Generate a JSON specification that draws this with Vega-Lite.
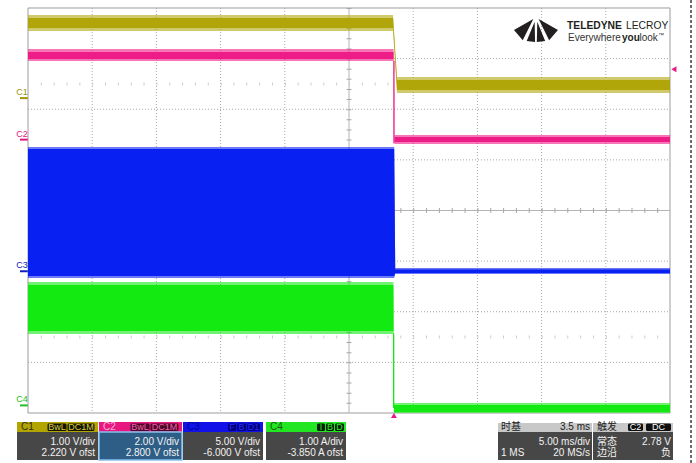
{
  "$schema": "https://vega.github.io/schema/vega-lite/v6.json",
  "width": 696,
  "height": 463,
  "padding": 0,
  "autosize": {"type": "none"},
  "background": "white",
  "config": {"view": {"stroke": null}, "text": {"font": "Liberation Sans"}},
  "resolve": {"scale": {"color": "independent"}},
  "datasets": {
    "vgrid": [{"t": -23.5}, {"t": -18.5}, {"t": -13.5}, {"t": -8.5}, {"t": 1.5}, {"t": 6.5}, {"t": 11.5}, {"t": 16.5}],
    "hgrid": [{"d": -3}, {"d": -2}, {"d": -1}, {"d": 1}, {"d": 2}, {"d": 3}],
    "traces": [
      {"ch": "C1", "t": -28.5, "hi": 3.862, "lo": 3.546, "hi2": 3.802, "lo2": 3.605},
      {"ch": "C1", "t": -0.07, "hi": 3.862, "lo": 3.546, "hi2": 3.802, "lo2": 3.605},
      {"ch": "C1", "t": 0.24, "hi": 2.637, "lo": 2.321, "hi2": 2.578, "lo2": 2.38},
      {"ch": "C1", "t": 21.5, "hi": 2.637, "lo": 2.321, "hi2": 2.578, "lo2": 2.38},
      {"ch": "C2", "t": -28.5, "hi": 3.19, "lo": 2.953, "hi2": 3.131, "lo2": 2.993},
      {"ch": "C2", "t": -0.03, "hi": 3.19, "lo": 2.953, "hi2": 3.131, "lo2": 2.993},
      {"ch": "C2", "t": 0.05, "hi": 1.491, "lo": 1.314, "hi2": 1.452, "lo2": 1.353},
      {"ch": "C2", "t": 21.5, "hi": 1.491, "lo": 1.314, "hi2": 1.452, "lo2": 1.353},
      {"ch": "C3", "t": -28.5, "hi": 1.254, "lo": -1.333, "hi2": 1.215, "lo2": -1.294},
      {"ch": "C3", "t": 0.02, "hi": 1.254, "lo": -1.333, "hi2": 1.215, "lo2": -1.294},
      {"ch": "C3", "t": 0.1, "hi": -1.136, "lo": -1.254, "hi2": -1.165, "lo2": -1.235},
      {"ch": "C3", "t": 21.5, "hi": -1.136, "lo": -1.254, "hi2": -1.165, "lo2": -1.235},
      {"ch": "C4", "t": -28.5, "hi": -1.412, "lo": -2.44, "hi2": -1.472, "lo2": -2.38},
      {"ch": "C4", "t": -0.04, "hi": -1.412, "lo": -2.44, "hi2": -1.472, "lo2": -2.38},
      {"ch": "C4", "t": 0.0, "hi": -3.802, "lo": -4.0, "hi2": -3.842, "lo2": -3.98},
      {"ch": "C4", "t": 21.5, "hi": -3.802, "lo": -4.0, "hi2": -3.842, "lo2": -3.98}
    ],
    "steps": [
      {"ch": "C2", "t": 0.0, "a": 2.96, "b": 1.33},
      {"ch": "C4", "t": -0.02, "a": -2.43, "b": -3.9}
    ],
    "offsets": [
      {"ch": "C1", "d": 2.22},
      {"ch": "C2", "d": 1.4},
      {"ch": "C3", "d": -1.2},
      {"ch": "C4", "d": -3.85}
    ],
    "boxes": [
      {"k": "C1h", "x1": -29.3567, "x2": -23.0483, "y1": -4.1778, "y2": -4.3753},
      {"k": "body", "x1": -29.3567, "x2": -23.0483, "y1": -4.3753, "y2": -4.9284},
      {"k": "C2h", "x1": -22.9704, "x2": -16.5062, "y1": -4.1778, "y2": -4.3753},
      {"k": "sel", "x1": -22.9704, "x2": -16.5062, "y1": -4.3753, "y2": -4.9284},
      {"k": "C3h", "x1": -16.4284, "x2": -10.1978, "y1": -4.1778, "y2": -4.3753},
      {"k": "body", "x1": -16.4284, "x2": -10.1978, "y1": -4.3753, "y2": -4.9284},
      {"k": "C4h", "x1": -9.9642, "x2": -3.7337, "y1": -4.1778, "y2": -4.3753},
      {"k": "body", "x1": -9.9642, "x2": -3.7337, "y1": -4.3753, "y2": -4.9284},
      {"k": "gh", "x1": 8.1043, "x2": 15.4252, "y1": -4.1976, "y2": -4.3753},
      {"k": "body", "x1": 8.1043, "x2": 15.4252, "y1": -4.3753, "y2": -4.9284},
      {"k": "gh", "x1": 15.5031, "x2": 21.7336, "y1": -4.1976, "y2": -4.3753},
      {"k": "body", "x1": 15.5031, "x2": 21.7336, "y1": -4.3753, "y2": -4.9284}
    ],
    "badges": [
      {"k": "C1", "x1": -26.9813, "x2": -25.5016, "xc": -26.2414, "label": "BwL"},
      {"k": "C1", "x1": -25.4237, "x2": -23.3209, "xc": -24.3723, "label": "DC1M"},
      {"k": "C2", "x1": -20.5172, "x2": -19.0374, "xc": -19.7773, "label": "BwL"},
      {"k": "C2", "x1": -18.9595, "x2": -16.7788, "xc": -17.8692, "label": "DC1M"},
      {"k": "C3", "x1": -12.9237, "x2": -12.3006, "xc": -12.6122, "label": "F"},
      {"k": "C3", "x1": -12.2228, "x2": -11.5218, "xc": -11.8723, "label": "B"},
      {"k": "C3", "x1": -11.4439, "x2": -10.4315, "xc": -10.9377, "label": "D1"},
      {"k": "C4", "x1": -5.9922, "x2": -5.3692, "xc": -5.6807, "label": "I"},
      {"k": "C4", "x1": -5.2913, "x2": -4.6682, "xc": -4.9798, "label": "B"},
      {"k": "C4", "x1": -4.5904, "x2": -3.8894, "xc": -4.2399, "label": "D"},
      {"k": "T", "x1": 18.2289, "x2": 19.3971, "xc": 18.813, "label": "C2"},
      {"k": "T", "x1": 19.6308, "x2": 21.5778, "xc": 20.6043, "label": "DC"}
    ],
    "hdr": [
      {"k": "C1", "t": -29.0452, "label": "C1"},
      {"k": "C2", "t": -22.6589, "label": "C2"},
      {"k": "C3", "t": -16.1168, "label": "C3"},
      {"k": "C4", "t": -9.6527, "label": "C4"},
      {"k": "G", "t": 8.338, "label": "时基"},
      {"k": "G", "t": 15.8146, "label": "触发"}
    ],
    "bodyR": [
      {"t": -23.282, "d": -4.563, "label": "1.00 V/div"},
      {"t": -23.282, "d": -4.7961, "label": "2.220 V ofst"},
      {"t": -16.7398, "d": -4.563, "label": "2.00 V/div"},
      {"t": -16.7398, "d": -4.7961, "label": "2.800 V ofst"},
      {"t": -10.4315, "d": -4.563, "label": "5.00 V/div"},
      {"t": -10.4315, "d": -4.7961, "label": "-6.000 V ofst"},
      {"t": -3.9673, "d": -4.563, "label": "1.00 A/div"},
      {"t": -3.9673, "d": -4.7961, "label": "-3.850 A ofst"},
      {"t": 15.2694, "d": -4.563, "label": "5.00 ms/div"},
      {"t": 15.2694, "d": -4.7961, "label": "20 MS/s"},
      {"t": 21.5778, "d": -4.563, "label": "2.78 V"},
      {"t": 21.5778, "d": -4.7961, "label": "负"}
    ],
    "bodyL": [
      {"t": 8.338, "d": -4.7961, "label": "1 MS"},
      {"t": 15.8146, "d": -4.563, "label": "常态"},
      {"t": 15.8146, "d": -4.7961, "label": "边沿"}
    ]
  },
  "layer": [
    {
      "data": {"values": [{}]},
      "mark": {"type": "rect", "fill": "white", "stroke": "#9c9c9c", "strokeWidth": 1},
      "encoding": {
        "x": {"datum": -28.5, "type": "quantitative", "scale": {"domain": [-30.6807, 23.5249], "nice": false, "zero": false}, "axis": null},
        "x2": {"datum": 21.5},
        "y": {"datum": 4, "type": "quantitative", "scale": {"domain": [-4.98766, 4.15802], "nice": false, "zero": false}, "axis": null},
        "y2": {"datum": -4}
      }
    },
    {
      "data": {"name": "vgrid"},
      "mark": {"type": "rule", "color": "#a6a6a6", "strokeWidth": 1, "strokeDash": [1, 2]},
      "encoding": {
        "x": {"field": "t", "type": "quantitative", "scale": {"domain": [-30.6807, 23.5249], "nice": false, "zero": false}, "axis": null},
        "y": {"datum": 4, "type": "quantitative", "scale": {"domain": [-4.98766, 4.15802], "nice": false, "zero": false}, "axis": null},
        "y2": {"datum": -4}
      }
    },
    {
      "data": {"name": "hgrid"},
      "mark": {"type": "rule", "color": "#a6a6a6", "strokeWidth": 1, "strokeDash": [1, 2]},
      "encoding": {
        "y": {"field": "d", "type": "quantitative", "scale": {"domain": [-4.98766, 4.15802], "nice": false, "zero": false}, "axis": null},
        "x": {"datum": -28.5, "type": "quantitative", "scale": {"domain": [-30.6807, 23.5249], "nice": false, "zero": false}, "axis": null},
        "x2": {"datum": 21.5}
      }
    },
    {
      "data": {"values": [{}]},
      "mark": {"type": "rule", "color": "#b4b4b4", "strokeWidth": 1},
      "encoding": {
        "y": {"datum": 0, "type": "quantitative", "scale": {"domain": [-4.98766, 4.15802], "nice": false, "zero": false}, "axis": null},
        "x": {"datum": -28.5, "type": "quantitative", "scale": {"domain": [-30.6807, 23.5249], "nice": false, "zero": false}, "axis": null},
        "x2": {"datum": 21.5}
      }
    },
    {
      "data": {"values": [{}]},
      "mark": {"type": "rule", "color": "#b4b4b4", "strokeWidth": 1},
      "encoding": {
        "x": {"datum": -3.5, "type": "quantitative", "scale": {"domain": [-30.6807, 23.5249], "nice": false, "zero": false}, "axis": null},
        "y": {"datum": 4, "type": "quantitative", "scale": {"domain": [-4.98766, 4.15802], "nice": false, "zero": false}, "axis": null},
        "y2": {"datum": -4}
      }
    },
    {
      "data": {"values": [{}]},
      "mark": {"type": "rule", "color": "#a8a8a8", "strokeWidth": 5, "strokeDash": [1, 11.84]},
      "encoding": {
        "y": {"datum": 0, "type": "quantitative", "scale": {"domain": [-4.98766, 4.15802], "nice": false, "zero": false}, "axis": null},
        "x": {"datum": -28.5, "type": "quantitative", "scale": {"domain": [-30.6807, 23.5249], "nice": false, "zero": false}, "axis": null},
        "x2": {"datum": 21.5}
      }
    },
    {
      "data": {"values": [{}]},
      "mark": {"type": "rule", "color": "#a8a8a8", "strokeWidth": 5, "strokeDash": [1, 9.125]},
      "encoding": {
        "x": {"datum": -3.5, "type": "quantitative", "scale": {"domain": [-30.6807, 23.5249], "nice": false, "zero": false}, "axis": null},
        "y": {"datum": 4, "type": "quantitative", "scale": {"domain": [-4.98766, 4.15802], "nice": false, "zero": false}, "axis": null},
        "y2": {"datum": -4}
      }
    },
    {
      "data": {"values": [{"d": 2.5}, {"d": -2.5}]},
      "mark": {"type": "rule", "color": "#cccccc", "strokeWidth": 3, "strokeDash": [1, 11.84]},
      "encoding": {
        "y": {"field": "d", "type": "quantitative", "scale": {"domain": [-4.98766, 4.15802], "nice": false, "zero": false}, "axis": null},
        "x": {"datum": -28.5, "type": "quantitative", "scale": {"domain": [-30.6807, 23.5249], "nice": false, "zero": false}, "axis": null},
        "x2": {"datum": 21.5}
      }
    },
    {
      "data": {"name": "traces"},
      "mark": {"type": "area", "opacity": 0.6, "interpolate": "linear"},
      "encoding": {
        "x": {"field": "t", "type": "quantitative", "scale": {"domain": [-30.6807, 23.5249], "nice": false, "zero": false}, "axis": null},
        "y": {"field": "hi", "type": "quantitative", "scale": {"domain": [-4.98766, 4.15802], "nice": false, "zero": false}, "axis": null},
        "y2": {"field": "lo"},
        "color": {"field": "ch", "type": "nominal", "scale": {"domain": ["C1", "C2", "C3", "C4"], "range": ["#b0a60a", "#ee1c87", "#0820f2", "#12ea12"]}, "legend": null}
      }
    },
    {
      "data": {"name": "traces"},
      "mark": {"type": "area", "opacity": 1, "interpolate": "linear"},
      "encoding": {
        "x": {"field": "t", "type": "quantitative", "scale": {"domain": [-30.6807, 23.5249], "nice": false, "zero": false}, "axis": null},
        "y": {"field": "hi2", "type": "quantitative", "scale": {"domain": [-4.98766, 4.15802], "nice": false, "zero": false}, "axis": null},
        "y2": {"field": "lo2"},
        "color": {"field": "ch", "type": "nominal", "scale": {"domain": ["C1", "C2", "C3", "C4"], "range": ["#b0a60a", "#ee1c87", "#0820f2", "#12ea12"]}, "legend": null}
      }
    },
    {
      "data": {"name": "steps"},
      "mark": {"type": "rule", "strokeWidth": 1.3},
      "encoding": {
        "x": {"field": "t", "type": "quantitative", "scale": {"domain": [-30.6807, 23.5249], "nice": false, "zero": false}, "axis": null},
        "y": {"field": "a", "type": "quantitative", "scale": {"domain": [-4.98766, 4.15802], "nice": false, "zero": false}, "axis": null},
        "y2": {"field": "b"},
        "color": {"field": "ch", "type": "nominal", "scale": {"domain": ["C2", "C4"], "range": ["#ee1c87", "#12ea12"]}, "legend": null}
      }
    },
    {
      "data": {"name": "offsets"},
      "mark": {"type": "rule", "strokeWidth": 2},
      "encoding": {
        "x": {"datum": -29.123, "type": "quantitative", "scale": {"domain": [-30.6807, 23.5249], "nice": false, "zero": false}, "axis": null},
        "x2": {"datum": -28.52},
        "y": {"field": "d", "type": "quantitative", "scale": {"domain": [-4.98766, 4.15802], "nice": false, "zero": false}, "axis": null},
        "color": {"field": "ch", "type": "nominal", "scale": {"domain": ["C1", "C2", "C3", "C4"], "range": ["#a09400", "#e0187e", "#1020c0", "#20c020"]}, "legend": null}
      }
    },
    {
      "data": {"name": "offsets"},
      "mark": {"type": "text", "fontSize": 9, "align": "center", "baseline": "middle", "dy": -6},
      "encoding": {
        "x": {"datum": -28.9673, "type": "quantitative", "scale": {"domain": [-30.6807, 23.5249], "nice": false, "zero": false}, "axis": null},
        "y": {"field": "d", "type": "quantitative", "scale": {"domain": [-4.98766, 4.15802], "nice": false, "zero": false}, "axis": null},
        "text": {"field": "ch"},
        "color": {"field": "ch", "type": "nominal", "scale": {"domain": ["C1", "C2", "C3", "C4"], "range": ["#a09400", "#e0187e", "#1020c0", "#20c020"]}, "legend": null}
      }
    },
    {
      "data": {"values": [{"t": 21.8, "d": 2.79}]},
      "mark": {"type": "point", "shape": "triangle-left", "filled": true, "size": 35, "color": "#e8178a", "opacity": 1},
      "encoding": {
        "x": {"field": "t", "type": "quantitative", "scale": {"domain": [-30.6807, 23.5249], "nice": false, "zero": false}, "axis": null},
        "y": {"field": "d", "type": "quantitative", "scale": {"domain": [-4.98766, 4.15802], "nice": false, "zero": false}, "axis": null}
      }
    },
    {
      "data": {"values": [{"t": 0, "d": -4.05}]},
      "mark": {"type": "point", "shape": "triangle-up", "filled": true, "size": 35, "color": "#e8178a", "opacity": 1},
      "encoding": {
        "x": {"field": "t", "type": "quantitative", "scale": {"domain": [-30.6807, 23.5249], "nice": false, "zero": false}, "axis": null},
        "y": {"field": "d", "type": "quantitative", "scale": {"domain": [-4.98766, 4.15802], "nice": false, "zero": false}, "axis": null}
      }
    },
    {
      "data": {"values": [{}]},
      "mark": {"type": "rule", "color": "#3c3c3c", "strokeWidth": 1.5, "strokeDash": [3, 2]},
      "encoding": {
        "x": {"datum": 23.136, "type": "quantitative", "scale": {"domain": [-30.6807, 23.5249], "nice": false, "zero": false}, "axis": null},
        "y": {"datum": 4.158, "type": "quantitative", "scale": {"domain": [-4.98766, 4.15802], "nice": false, "zero": false}, "axis": null},
        "y2": {"datum": -4.9877}
      }
    },
    {
      "data": {"values": [{"t": 11.06, "d": 3.5654}]},
      "mark": {"type": "point", "filled": true, "opacity": 1, "color": "#231f20", "size": 1936, "shape": "M -0.12,-0.5 L -1,0 L -0.6,0.47 Z M -0.06,-0.38 L -0.42,0.5 L -0.04,0.55 Z M 0.12,-0.5 L 1,0 L 0.6,0.47 Z M 0.06,-0.38 L 0.42,0.5 L 0.04,0.55 Z"},
      "encoding": {
        "x": {"field": "t", "type": "quantitative", "scale": {"domain": [-30.6807, 23.5249], "nice": false, "zero": false}, "axis": null},
        "y": {"field": "d", "type": "quantitative", "scale": {"domain": [-4.98766, 4.15802], "nice": false, "zero": false}, "axis": null}
      }
    },
    {
      "data": {"values": [{"t": 13.4782, "d": 3.6444, "label": "TELEDYNE"}]},
      "mark": {"type": "text", "align": "left", "baseline": "middle", "font": "Liberation Sans", "fontWeight": "bold", "fontSize": 10.3, "color": "#231f20"},
      "encoding": {
        "x": {"field": "t", "type": "quantitative", "scale": {"domain": [-30.6807, 23.5249], "nice": false, "zero": false}, "axis": null},
        "y": {"field": "d", "type": "quantitative", "scale": {"domain": [-4.98766, 4.15802], "nice": false, "zero": false}, "axis": null},
        "text": {"field": "label"}
      }
    },
    {
      "data": {"values": [{"t": 18.0731, "d": 3.6444, "label": "LECROY"}]},
      "mark": {"type": "text", "align": "left", "baseline": "middle", "font": "Liberation Sans", "fontSize": 10.3, "color": "#231f20"},
      "encoding": {
        "x": {"field": "t", "type": "quantitative", "scale": {"domain": [-30.6807, 23.5249], "nice": false, "zero": false}, "axis": null},
        "y": {"field": "d", "type": "quantitative", "scale": {"domain": [-4.98766, 4.15802], "nice": false, "zero": false}, "axis": null},
        "text": {"field": "label"}
      }
    },
    {
      "data": {"values": [{"t": 13.5561, "d": 3.4074, "label": "Everywhere"}, {"t": 19.1246, "d": 3.4074, "label": "look"}]},
      "mark": {"type": "text", "align": "left", "baseline": "middle", "fontSize": 10, "color": "#333333"},
      "encoding": {
        "x": {"field": "t", "type": "quantitative", "scale": {"domain": [-30.6807, 23.5249], "nice": false, "zero": false}, "axis": null},
        "y": {"field": "d", "type": "quantitative", "scale": {"domain": [-4.98766, 4.15802], "nice": false, "zero": false}, "axis": null},
        "text": {"field": "label"}
      }
    },
    {
      "data": {"values": [{"t": 17.7616, "d": 3.4074, "label": "you"}]},
      "mark": {"type": "text", "align": "left", "baseline": "middle", "fontSize": 10, "fontWeight": "bold", "color": "#231f20"},
      "encoding": {
        "x": {"field": "t", "type": "quantitative", "scale": {"domain": [-30.6807, 23.5249], "nice": false, "zero": false}, "axis": null},
        "y": {"field": "d", "type": "quantitative", "scale": {"domain": [-4.98766, 4.15802], "nice": false, "zero": false}, "axis": null},
        "text": {"field": "label"}
      }
    },
    {
      "data": {"values": [{"t": 20.5654, "d": 3.46, "label": "™"}]},
      "mark": {"type": "text", "align": "left", "baseline": "middle", "fontSize": 6, "color": "#333333"},
      "encoding": {
        "x": {"field": "t", "type": "quantitative", "scale": {"domain": [-30.6807, 23.5249], "nice": false, "zero": false}, "axis": null},
        "y": {"field": "d", "type": "quantitative", "scale": {"domain": [-4.98766, 4.15802], "nice": false, "zero": false}, "axis": null},
        "text": {"field": "label"}
      }
    },
    {
      "data": {"name": "boxes"},
      "mark": {"type": "rect"},
      "encoding": {
        "x": {"field": "x1", "type": "quantitative", "scale": {"domain": [-30.6807, 23.5249], "nice": false, "zero": false}, "axis": null},
        "x2": {"field": "x2"},
        "y": {"field": "y1", "type": "quantitative", "scale": {"domain": [-4.98766, 4.15802], "nice": false, "zero": false}, "axis": null},
        "y2": {"field": "y2"},
        "color": {"field": "k", "type": "nominal", "scale": {"domain": ["C1h", "C2h", "C3h", "C4h", "gh", "body", "sel"], "range": ["#b3a500", "#e8177f", "#1212e8", "#22e622", "#c8c8c8", "#474747", "#2e5e86"]}, "legend": null}
      }
    },
    {
      "data": {"values": [{}]},
      "mark": {"type": "rect", "fill": null, "fillOpacity": 0, "stroke": "#86c0ec", "strokeWidth": 1.5},
      "encoding": {
        "x": {"datum": -22.9704, "type": "quantitative", "scale": {"domain": [-30.6807, 23.5249], "nice": false, "zero": false}, "axis": null},
        "x2": {"datum": -16.5062},
        "y": {"datum": -4.3753, "type": "quantitative", "scale": {"domain": [-4.98766, 4.15802], "nice": false, "zero": false}, "axis": null},
        "y2": {"datum": -4.9284}
      }
    },
    {
      "data": {"name": "badges"},
      "mark": {"type": "rect", "cornerRadius": 1.5},
      "encoding": {
        "x": {"field": "x1", "type": "quantitative", "scale": {"domain": [-30.6807, 23.5249], "nice": false, "zero": false}, "axis": null},
        "x2": {"field": "x2"},
        "y": {"datum": -4.2074, "type": "quantitative", "scale": {"domain": [-4.98766, 4.15802], "nice": false, "zero": false}, "axis": null},
        "y2": {"datum": -4.3556},
        "color": {"field": "k", "type": "nominal", "scale": {"domain": ["C1", "C2", "C3", "C4", "T"], "range": ["#141400", "#4a0828", "#00007a", "#062006", "#101010"]}, "legend": null}
      }
    },
    {
      "data": {"name": "badges"},
      "mark": {"type": "text", "align": "center", "baseline": "middle", "fontSize": 9},
      "encoding": {
        "x": {"field": "xc", "type": "quantitative", "scale": {"domain": [-30.6807, 23.5249], "nice": false, "zero": false}, "axis": null},
        "y": {"datum": -4.2815, "type": "quantitative", "scale": {"domain": [-4.98766, 4.15802], "nice": false, "zero": false}, "axis": null},
        "text": {"field": "label"},
        "color": {"field": "k", "type": "nominal", "scale": {"domain": ["C1", "C2", "C3", "C4", "T"], "range": ["#d8cc40", "#f060a8", "#2a2aff", "#30f030", "#ffffff"]}, "legend": null}
      }
    },
    {
      "data": {"name": "hdr"},
      "mark": {"type": "text", "align": "left", "baseline": "middle", "fontSize": 10, "font": "Liberation Sans, Noto Sans CJK SC"},
      "encoding": {
        "x": {"field": "t", "type": "quantitative", "scale": {"domain": [-30.6807, 23.5249], "nice": false, "zero": false}, "axis": null},
        "y": {"datum": -4.2765, "type": "quantitative", "scale": {"domain": [-4.98766, 4.15802], "nice": false, "zero": false}, "axis": null},
        "text": {"field": "label"},
        "color": {"field": "k", "type": "nominal", "scale": {"domain": ["C1", "C2", "C3", "C4", "G"], "range": ["#2e2e10", "#ffb2dc", "#00009a", "#1a5a1a", "#202020"]}, "legend": null}
      }
    },
    {
      "data": {"values": [{"t": 15.2694, "label": "3.5 ms"}]},
      "mark": {"type": "text", "align": "right", "baseline": "middle", "fontSize": 10, "color": "#202020"},
      "encoding": {
        "x": {"field": "t", "type": "quantitative", "scale": {"domain": [-30.6807, 23.5249], "nice": false, "zero": false}, "axis": null},
        "y": {"datum": -4.2765, "type": "quantitative", "scale": {"domain": [-4.98766, 4.15802], "nice": false, "zero": false}, "axis": null},
        "text": {"field": "label"}
      }
    },
    {
      "data": {"name": "bodyR"},
      "mark": {"type": "text", "align": "right", "baseline": "middle", "fontSize": 10, "color": "#f2f2f2", "font": "Liberation Sans, Noto Sans CJK SC"},
      "encoding": {
        "x": {"field": "t", "type": "quantitative", "scale": {"domain": [-30.6807, 23.5249], "nice": false, "zero": false}, "axis": null},
        "y": {"field": "d", "type": "quantitative", "scale": {"domain": [-4.98766, 4.15802], "nice": false, "zero": false}, "axis": null},
        "text": {"field": "label"}
      }
    },
    {
      "data": {"name": "bodyL"},
      "mark": {"type": "text", "align": "left", "baseline": "middle", "fontSize": 10, "color": "#f2f2f2", "font": "Liberation Sans, Noto Sans CJK SC"},
      "encoding": {
        "x": {"field": "t", "type": "quantitative", "scale": {"domain": [-30.6807, 23.5249], "nice": false, "zero": false}, "axis": null},
        "y": {"field": "d", "type": "quantitative", "scale": {"domain": [-4.98766, 4.15802], "nice": false, "zero": false}, "axis": null},
        "text": {"field": "label"}
      }
    }
  ]
}
